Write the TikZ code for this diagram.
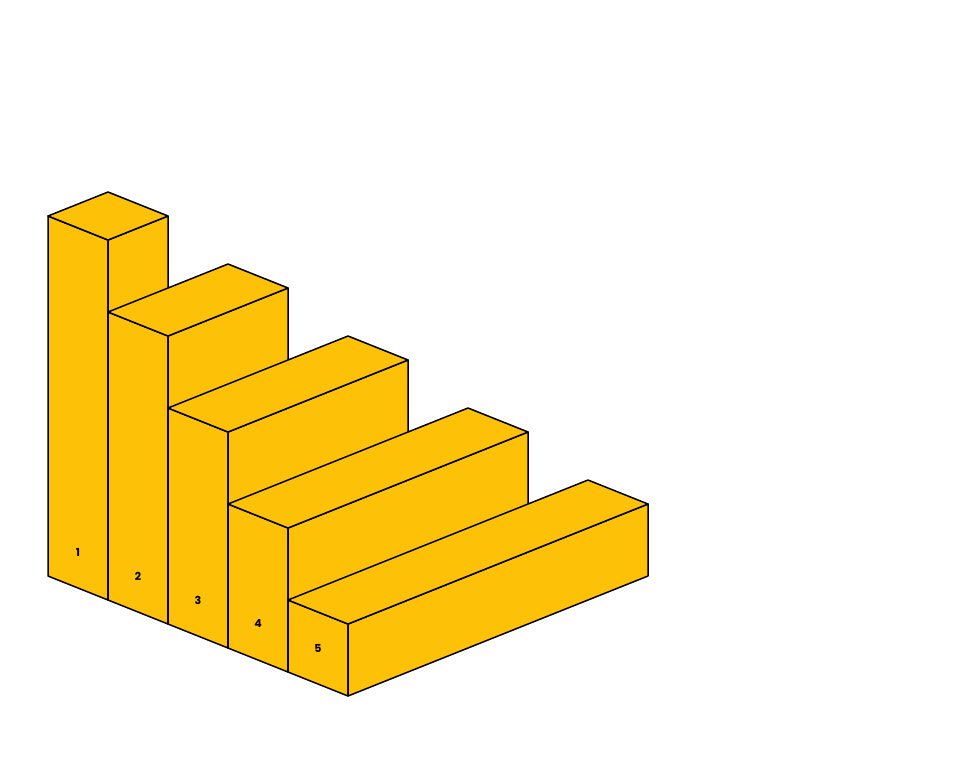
\documentclass[tikz,border=0pt]{standalone}
\usepackage{fontspec}
\setmainfont{Poppins}
\definecolor{bar}{RGB}{253,193,7}
\begin{document}
\begin{tikzpicture}[x=1pt,y=-1pt,face/.style={fill=bar,draw=black,line width=1.5pt,line join=round},lab/.style={font=\bfseries\fontsize{11}{12}\selectfont}]
\path[use as bounding box] (0,0) rectangle (960,756);
\foreach \k in {1,...,5}{
  \pgfmathsetmacro{\px}{48+60*(\k-1)}
  \pgfmathsetmacro{\py}{576+24*(\k-1)}
  \pgfmathsetmacro{\h}{(6-\k)*72}
  \pgfmathsetmacro{\bx}{60*\k}
  \pgfmathsetmacro{\by}{-24*\k}
  \coordinate (A) at (\px,\py);
  \coordinate (B) at (\px+60,\py+24);
  \coordinate (C) at (\px+60+\bx,\py+24+\by);
  \coordinate (D) at (\px+\bx,\py+\by);
  \draw[face] (A) -- (B) -- ++(0,-\h) -- ([yshift=\h pt]A) -- cycle;
  \draw[face] (B) -- (C) -- ++(0,-\h) -- ([yshift=\h pt]B) -- cycle;
  \draw[face] ([yshift=\h pt]A) -- ([yshift=\h pt]B) -- ([yshift=\h pt]C) -- ([yshift=\h pt]D) -- cycle;
  \node[lab] (L\k) at (\px+30,\py-24) {\k};
}
\end{tikzpicture}
\end{document}
